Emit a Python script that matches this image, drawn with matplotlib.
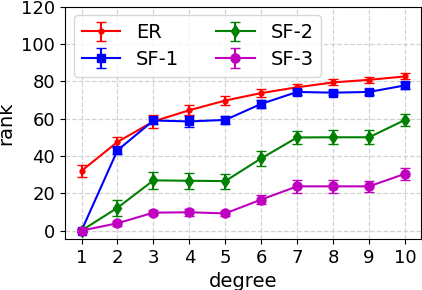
import numpy as np
import matplotlib
matplotlib.use('Agg')
import matplotlib.pyplot as plt

degree = [1, 2, 3, 4, 5, 6, 7, 8, 9, 10]

er = [32, 47.5, 58.5, 64.5, 69.7, 73.7, 76.8, 79.4, 80.8, 82.6]
er_err = [3.4, 2.5, 3.5, 2.8, 2.2, 2.0, 1.6, 1.6, 1.6, 1.6]

sf1 = [0, 43, 59, 58.5, 59.3, 67.9, 74.3, 73.9, 74.3, 77.8]
sf1_err = [1.0, 2.0, 2.0, 3.0, 2.0, 2.0, 1.8, 1.5, 1.5, 2.0]

sf2 = [0, 12.2, 26.9, 26.7, 26.5, 38.7, 49.9, 50, 50, 59.3]
sf2_err = [1.0, 4.2, 4.4, 4.4, 4.0, 4.2, 3.7, 3.7, 3.7, 3.4]

sf3 = [0, 3.9, 9.6, 9.8, 9.2, 16.6, 23.7, 23.7, 23.7, 30.4]
sf3_err = [1.0, 1.2, 1.5, 1.8, 1.5, 2.5, 3.5, 3.3, 3.0, 3.1]

fig = plt.figure(figsize=(4.22, 2.9), dpi=100)
ax = fig.add_axes([0.154, 0.176, 0.844, 0.801])

ax.errorbar(degree, er, yerr=er_err, color='red', marker='.', markersize=7,
            linewidth=1.5, capsize=3.8, label='ER')
ax.errorbar(degree, sf1, yerr=sf1_err, color='blue', marker='s', markersize=6.3,
            linewidth=1.5, capsize=3.8, label='SF-1')
ax.errorbar(degree, sf2, yerr=sf2_err, color='green', marker='d', markersize=6,
            linewidth=1.5, capsize=3.8, label='SF-2')
ax.errorbar(degree, sf3, yerr=sf3_err, color='m', marker='o', markersize=6.5,
            linewidth=1.5, capsize=3.8, label='SF-3')

ax.set_xlim(0.54, 10.45)
ax.set_ylim(-4.5, 120)
ax.set_xticks(degree)
ax.set_yticks([0, 20, 40, 60, 80, 100, 120])
ax.tick_params(labelsize=13)
ax.set_xlabel('degree', fontsize=14)
ax.set_ylabel('rank', fontsize=14)
ax.grid(True, linestyle='--', color='lightgray', linewidth=0.9)
ax.legend(loc='upper left', ncol=2, fontsize=14, columnspacing=1.9,
          handlelength=2.0, labelspacing=0.4, borderaxespad=0.45)

plt.savefig('out.png', dpi=100)
